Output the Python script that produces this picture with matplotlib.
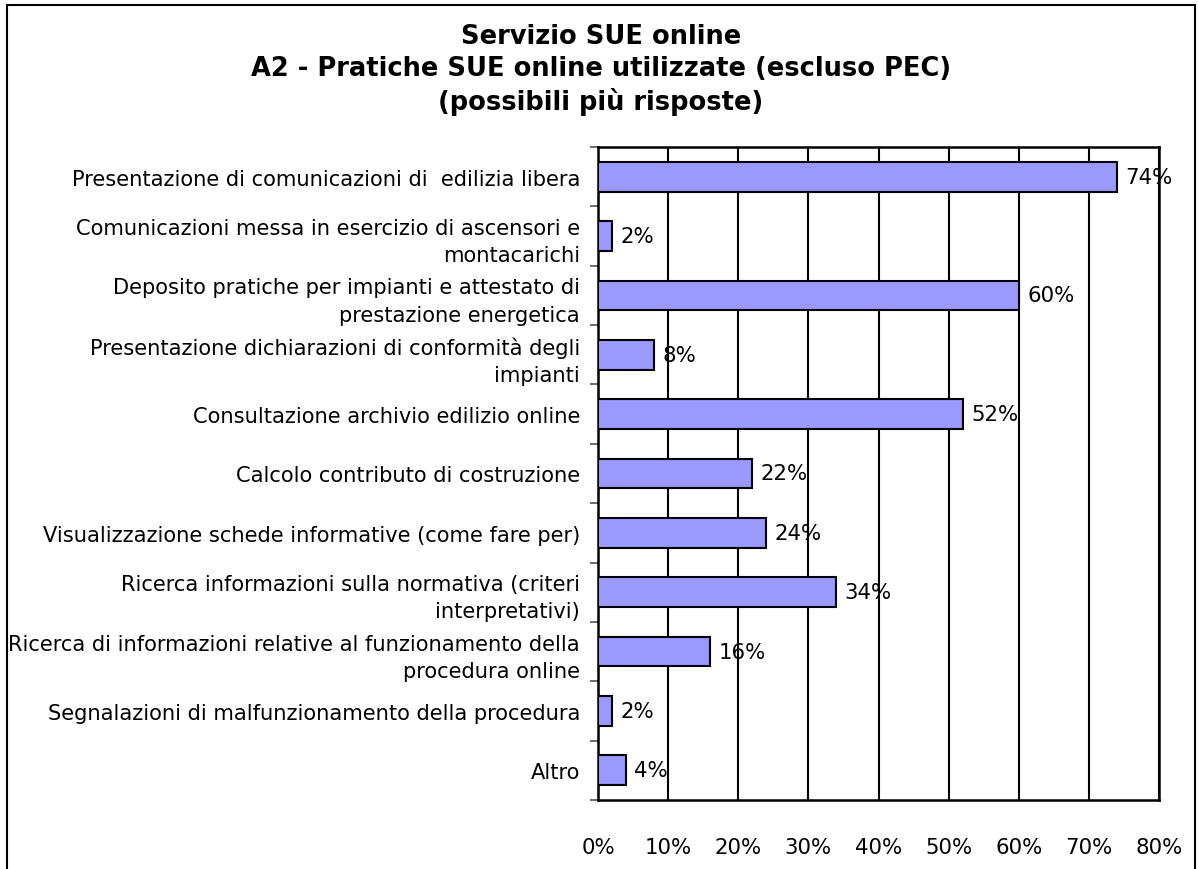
import matplotlib.pyplot as plt
from matplotlib.patches import Rectangle
from matplotlib.ticker import FixedLocator
import numpy as np

plt.rcParams['font.family'] = ['DejaVu Sans']

categories = [
    'Presentazione di comunicazioni di  edilizia libera',
    'Comunicazioni messa in esercizio di ascensori e\nmontacarichi',
    'Deposito pratiche per impianti e attestato di\nprestazione energetica',
    'Presentazione dichiarazioni di conformità degli\nimpianti',
    'Consultazione archivio edilizio online',
    'Calcolo contributo di costruzione',
    'Visualizzazione schede informative (come fare per)',
    'Ricerca informazioni sulla normativa (criteri\ninterpretativi)',
    'Ricerca di informazioni relative al funzionamento della\nprocedura online',
    'Segnalazioni di malfunzionamento della procedura',
    'Altro',
]
values = [74, 2, 60, 8, 52, 22, 24, 34, 16, 2, 4]
xticks = [0, 10, 20, 30, 40, 50, 60, 70, 80]

title = 'Servizio SUE online\nA2 - Pratiche SUE online utilizzate (escluso PEC)\n(possibili più risposte)'

fig = plt.figure(figsize=(11.98, 8.70), dpi=100)
fig.patches.append(Rectangle((7 / 1198, -0.1), (1195 - 7) / 1198, 1 - 6 / 870 + 0.1,
                             transform=fig.transFigure, fill=False,
                             edgecolor='black', lw=1.5))

ax = fig.add_axes([598 / 1198, 1 - 801 / 870, (1159 - 598) / 1198, (801 - 148) / 870])

y = np.arange(len(categories))
ax.barh(y, values, height=0.5, color='#9999FF', edgecolor='black', lw=1.5, zorder=3)
for yi, v in zip(y, values):
    ax.annotate(f'{v}%', (v, yi), xytext=(6, 0), textcoords='offset points',
                va='center', ha='left', fontsize=15.3, zorder=4)

ax.set_xlim(0, 80)
ax.set_ylim(len(categories) - 0.5, -0.5)
ax.set_xticks(xticks)
ax.set_xticklabels([f'{t}%' for t in xticks], fontsize=15.3)
ax.set_yticks(y)
ax.set_yticklabels(categories, fontsize=15.1, linespacing=1.45)
ax.yaxis.set_minor_locator(FixedLocator(np.arange(-0.5, len(categories), 1)))
ax.tick_params(axis='y', which='major', length=0, pad=13)
ax.tick_params(axis='y', which='minor', length=6, color='#555555', width=1.2)
ax.tick_params(axis='x', length=0, pad=27)
for lbl in ax.get_yticklabels():
    lbl.set_horizontalalignment('right')

ax.grid(axis='x', color='black', lw=1.5, zorder=0)
for s in ax.spines.values():
    s.set_linewidth(1.8)

fig.text(0.5 + 2 / 1198, 1 - 70 / 870, title, ha='center', va='center',
         fontsize=18.5, fontweight='bold', linespacing=1.3)

plt.savefig('out.png', dpi=100)
